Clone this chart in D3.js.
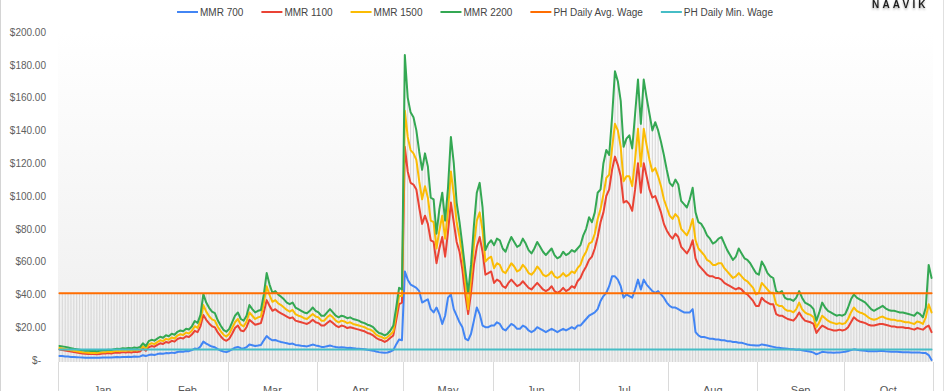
<!DOCTYPE html>
<html><head><meta charset="utf-8">
<script src="https://cdn.jsdelivr.net/npm/d3@7"></script>
<style>
html,body{margin:0;padding:0;background:#fff;}
svg{display:block;font-family:"Liberation Sans",Arial,sans-serif;}
</style></head><body>
<svg id="chart" width="945" height="391"></svg>
<script>
// ---------- DATA ----------
const firstDay = new Date(2021, 0, 1);
const endDay = new Date(2021, 10, 1);
const monthLabels = ["Jan","Feb","Mar","Apr","May","Jun","Jul","Aug","Sep","Oct"];
const yTickValues = [0,20,40,60,80,100,120,140,160,180,200];
const seriesNames = ["MMR 700","MMR 1100","MMR 1500","MMR 2200","PH Daily Avg. Wage","PH Daily Min. Wage"];
const seriesColors = ["#4285f4","#ea4335","#fbbc04","#34a853","#ff6d01","#46bdc6"];

const mmr700 = [
 2.5,2.4,2.2,2.1,1.9,1.8,1.7,1.6,1.5,1.4,1.4,1.3,1.4,1.3,1.4,1.5,1.5,1.6,1.5,1.7,1.8,1.7,1.9,1.8,2.0,1.9,2.1,2.0,2.2,2.9,2.4,
 3.0,3.3,3.1,3.6,4.0,3.8,4.2,4.1,4.5,4.3,4.9,5.2,5.0,5.5,5.4,6.0,7.0,6.7,8.3,11.2,10.0,9.0,8.2,7.8,6.6,5.8,5.1,4.8,
 5.5,6.5,7.5,8.0,7.2,7.0,7.8,9.5,9.0,8.5,8.8,9.2,12.0,14.6,13.0,12.0,12.2,11.5,11.0,10.6,10.2,9.8,10.0,9.2,9.0,8.7,8.5,8.3,8.8,9.4,8.9,
 8.5,8.0,8.0,8.4,8.8,8.3,7.9,7.6,7.8,7.6,7.3,7.4,7.2,7.0,6.9,6.7,6.5,6.2,6.0,5.7,5.2,4.8,4.6,4.4,4.6,5.2,6.0,9.5,12.5,12.0,
 54,49,46,45,44,42,35,36,37,31,29,32,28,22,27,38,40,31,27,23,20,13,12,16,24,32,28,21,20,20,21,
 21,23,22,19,18,20,22,21,19,19,21,20,18,17,18,20,19,18,17,18,19,18,17,18,19,18,19,20,19,21,
 21,23,25,27,28,29,31,36,39,41,45,51,51,49,45,38,40,39,38,43,49,43,49,46,44,42,41,42,40,38,35,
 33,32,32,31,30,29,29,29,31,17,15,14,14,13.5,13,13,12.5,12.5,12,12,11.5,11.5,11,11,10.5,10.5,10,9.5,9.2,9,8.8,
 8.8,9.5,9.2,8.8,8.4,8.0,7.6,7.4,7.2,7.0,6.8,6.6,6.5,6.3,6.4,6.0,5.6,5.3,5.0,4.5,3.5,4.2,5.0,4.8,4.6,4.5,4.4,4.5,4.6,4.8,
 5.0,5.5,6.0,6.5,6.2,6.0,5.8,5.6,5.4,5.3,5.3,5.4,5.5,5.5,5.3,5.2,5.1,5.0,5.0,4.9,4.8,4.8,4.7,4.6,4.5,4.6,4.5,4.3,4.2,3.0,0.0
];
const mmr1100 = [
 6.4,6.1,5.8,5.5,5.1,4.8,4.5,4.2,4.0,3.8,3.7,3.6,3.7,3.5,3.7,3.9,4.0,4.2,4.0,4.4,4.6,4.4,4.8,4.6,4.9,4.6,5.0,4.8,5.2,7.0,5.6,
 7.8,8.5,8.1,9.2,10.2,9.8,11.0,10.5,11.7,11.2,12.8,13.5,13.1,14.5,14.0,15.5,17.8,17.0,20.5,27.5,24.5,22.3,20.6,19.9,16.8,14.5,12.6,11.7,
 13,16,19.5,21,18,17.5,20,24.5,23,21.5,22,22.5,29,36.5,33,30,31,29.5,28.5,27.5,26.5,25.5,26,24,23.5,23,22.5,22,23,24.5,23,
 22.5,21,21,22.5,24,22.5,21,20,21,20.5,19.5,20,19.5,19,18.5,18,17.5,16.5,16,15,13.5,12.5,12,11,12,13.5,15,24,34,35,
 130,115,108,107,104,93,83,88,83,73,72,59,68,75,63,78,96,84,72,66,55,40,28,41,58,69,75,66,52,53,54,
 47,49,48,45,44,47,49,47,45,46,48,46,44,43,45,47,45,43,42,43,45,42,41,42,44,42,43,45,44,48,
 50,54,57,61,63,68,75,84,90,100,104,116,124,119,112,96,97,95,91,104,120,102,120,112,104,99,100,95,90,83,79,
 76,74,77,75,69,67,65,68,73,62,58,56,54,52,51,51,50,50,49,47,46,45,44,43,44,43,41,40,38,36,33,
 33,38,36,35,34,34,28,27,27,26,25,24.5,24,26,29,26,24,23.5,23,22,16.5,19,21,20,19,18.5,18,18,18.5,18,
 18.5,20,23,26,24.5,23.5,23,22.5,21.5,21,21,21.5,22,22,21.5,21,20.5,20.5,20,20,20,19.5,19.5,19,18.5,19.5,19,18.5,20,21,17
];
const mmr1500 = [
 7.3,7.0,6.7,6.3,5.9,5.6,5.3,5.0,4.7,4.5,4.4,4.3,4.4,4.2,4.5,4.7,4.8,5.1,4.9,5.3,5.6,5.4,5.8,5.6,6.0,5.7,6.1,5.9,6.4,8.4,6.8,
 9.4,10.2,9.7,10.9,12.0,11.5,12.9,12.4,13.7,13.1,14.9,15.7,15.2,16.7,16.2,17.8,20.6,19.6,23.8,33.5,29.5,26.7,24.8,24.0,20.3,17.6,15.4,14.3,
 16,19.5,23,25,21.5,20.5,23.5,29,27,25,26,26.5,34.5,45,39.5,35.5,36.5,34.5,33.5,32,30.5,29.5,30.5,28,27,26.5,25.5,25,26.5,28,26.5,
 26,24,24,26,27.5,26,24,23,24,23.5,22.5,23,22,21.5,21,20.5,20,19,18.5,17.5,15.5,14.5,14,13,14,15.5,17.5,28,39,39,
 152,136,128,126,122,109,98,106,99,85,84,68,79,88,74,91,115,101,84,75,64,48,31,50,70,85,90,79,60,62,63,
 56,59,58,54,53,56,59,57,54,55,58,56,53,52,54,57,55,52,51,52,54,51,50,51,53,51,52,54,53,56,
 58,63,66,71,72,77,86,92,101,111,113,129,144,140,130,109,112,112,106,122,141,118,141,131,122,115,117,112,106,98,93,
 88,86,89,87,80,78,76,80,86,73,68,66,64,61,60,58,58,59,59,56,54,52,50,51,53,51,49,48,46,44,40,
 41,47,45,43,41,41,34,33,33,31,30,30,29,31,35,31,29,28,27.5,26,20,23,27,25.5,24,23,22.5,22,22.5,22,
 22.5,25,29,32,30,29,28.5,27.5,26,25,24.5,25,26,26.5,25.5,25,24.5,24.5,24,24,23.5,23,23,22.5,22,23.5,23,22,26,34,29
];
const mmr2200 = [
 8.6,8.3,8.0,7.6,7.2,6.8,6.5,6.2,5.9,5.7,5.6,5.5,5.6,5.4,5.7,5.9,6.0,6.3,6.1,6.6,6.9,6.7,7.2,7.0,7.4,7.1,7.6,7.3,7.9,10.2,8.4,
 11.5,12.3,11.8,13.0,14.2,13.6,15.1,14.5,16.0,15.4,17.2,18.0,17.5,19.1,18.6,20.4,23.8,22.6,27.5,40.2,35.0,31.8,29.5,28.6,24.2,21.0,18.4,17.2,
 19,23,27,29,25,24,27,33.5,31,29,30,30.5,40,53,46,41,42,40,38.5,37,35,34,35,32,31,30,29,28.5,30,32,30,
 29,27,27,29,31,29,27,26,27,26.5,25.5,26,25,24.5,24,23,22.5,21.5,21,20,18,16.5,16,15,16,18,21,32,44,43,
 186,160,151,148,140,127,116,126,118,99,98,77,92,102,85,105,136,120,96,84,70,55,41,58,82,102,108,93,67,71,73,
 70,74,73,68,66,71,75,72,69,70,74,71,67,65,68,72,69,66,64,66,68,64,62,63,66,64,65,67,66,68,
 70,76,80,87,84,90,102,104,120,128,125,148,176,170,158,130,135,137,129,150,171,144,171,160,150,140,145,140,133,125,116,
 108,106,110,107,97,95,93,98,105,90,84,83,80,76,74,71,72,74,75,71,67,64,61,63,68,65,62,61,59,56,53,
 52,60,57,53,51,50,42,41,42,38,37,37,36,38,42,38,35,34,33,31,24,29,35,32,30,29,28,27,27.5,27,
 28,32,37,40,38,37,36,35,33,31,30,31,32,33,31.5,30.5,30,30,29.5,29,29,28.5,28,27.5,27,29,28,26,32,58,50
];
const phAvgWage = 40.7;
const phMinWage = 6.4;

// ---------- CHART ----------
const days = d3.timeDay.range(firstDay, endDay);
const svg = d3.select("#chart");

const x = d3.scaleBand().domain(days.map(d => +d)).range([58, 933]).padding(0);
const y = d3.scaleLinear().domain([0, 200]).range([360, 32]);
const cx = i => x(+days[i]) + x.bandwidth() / 2;

const seriesValues = [mmr700, mmr1100, mmr1500, mmr2200,
  days.map(() => phAvgWage), days.map(() => phMinWage)];
const series = seriesNames.map((n, k) => ({name: n, color: seriesColors[k], values: seriesValues[k]}));

// defs
const defs = svg.append("defs");
const grad = defs.append("linearGradient").attr("id", "bg").attr("x1", 0).attr("y1", 0).attr("x2", 0).attr("y2", 1);
grad.append("stop").attr("offset", "0%").attr("stop-color", "#ffffff");
grad.append("stop").attr("offset", "100%").attr("stop-color", "#eeeeee");
const sh = defs.append("filter").attr("id", "shadow").attr("x", "-10%").attr("y", "-50%").attr("width", "120%").attr("height", "250%");
sh.append("feDropShadow").attr("dx", 0).attr("dy", 1.5).attr("stdDeviation", 1.2).attr("flood-color", "#000").attr("flood-opacity", 0.35);

// page edges
svg.append("line").attr("x1", 0.5).attr("x2", 0.5).attr("y1", 0).attr("y2", 391).attr("stroke", "#d4d4d4");
svg.append("line").attr("x1", 943.5).attr("x2", 943.5).attr("y1", 0).attr("y2", 391).attr("stroke", "#e0e0e0");

// plot background
svg.append("rect").attr("x", 58).attr("y", 32).attr("width", 875).attr("height", y(0) + 2 - 32).attr("fill", "url(#bg)");

// drop lines
svg.append("g").selectAll("line").data(days).join("line")
  .attr("x1", (d, i) => cx(i)).attr("x2", (d, i) => cx(i))
  .attr("y1", (d, i) => y(d3.max(series, s => s.values[i])))
  .attr("y2", y(0) + 2)
  .attr("stroke", "#d2d2d2").attr("stroke-width", 0.9);

// month separators and labels
const monthStarts = d3.timeMonth.range(firstDay, endDay);
const bounds = monthStarts.map(m => x(+m)).concat([x(+days[days.length - 1]) + x.bandwidth()]);
svg.append("g").selectAll("line").data(bounds).join("line")
  .attr("x1", d => Math.round(d) + 0.5).attr("x2", d => Math.round(d) + 0.5)
  .attr("y1", y(0) + 2).attr("y2", 391)
  .attr("stroke", "#dadada");
svg.append("g").selectAll("text").data(monthLabels).join("text")
  .attr("x", (d, i) => (bounds[i] + bounds[i + 1]) / 2)
  .attr("y", 394)
  .attr("text-anchor", "middle")
  .attr("font-size", 11).attr("fill", "#555")
  .text(d => d);

// y axis
const yAxis = d3.axisLeft(y).tickValues(yTickValues).tickSize(0).tickPadding(0)
  .tickFormat(v => v === 0 ? "$-" : d3.format("$,.2f")(v));
const ya = svg.append("g").attr("transform", "translate(46,0)").call(yAxis);
ya.select(".domain").remove();
ya.selectAll("text").attr("font-size", 10).attr("fill", "#5f5f5f")
  .attr("font-family", "'Liberation Sans', Arial, sans-serif")
  .attr("dx", v => v === 0 ? -5 : 0);

// lines
const line = d3.line().x((d, i) => cx(i)).y(d => y(d));
svg.append("g").selectAll("path").data(series).join("path")
  .attr("d", s => line(s.values))
  .attr("fill", "none").attr("stroke", s => s.color)
  .attr("stroke-width", 2).attr("stroke-linejoin", "round").attr("stroke-linecap", "round");

// legend
const lg = svg.append("g");
const items = lg.selectAll("g").data(series).join("g");
items.append("line").attr("x1", 0).attr("x2", 21).attr("y1", 0).attr("y2", 0)
  .attr("stroke", s => s.color).attr("stroke-width", 2);
items.append("text").attr("x", 23).attr("y", 3.5).attr("font-size", 10).attr("fill", "#444")
  .text(s => s.name);
let off = 0;
const widths = [];
items.each(function () { widths.push(23 + this.querySelector("text").getComputedTextLength()); });
const gap = 18;
const total = d3.sum(widths) + gap * (widths.length - 1);
let start = 475 - total / 2;
items.attr("transform", (s, i) => {
  const t = `translate(${start + off},12)`;
  off += widths[i] + gap;
  return t;
});

// logo
svg.append("text").attr("x", 872).attr("y", 8)
  .attr("font-size", 10).attr("font-weight", "bold").attr("letter-spacing", 3.2)
  .attr("fill", "#1e1e1e").attr("filter", "url(#shadow)")
  .text("NAAVIK");
</script>
</body></html>
